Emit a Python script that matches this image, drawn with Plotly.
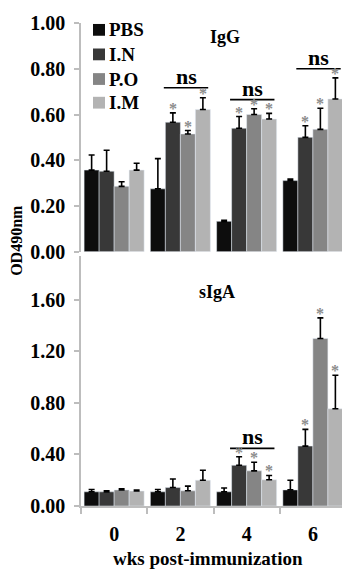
import plotly.graph_objects as go

weeks = ["0", "2", "4", "6"]
groups = ["PBS", "I.N", "P.O", "I.M"]
colors = ["#0d0d0d", "#383838", "#858585", "#b3b3b3"]

igg_vals = {
    "PBS": [0.357, 0.275, 0.133, 0.311],
    "I.N": [0.352, 0.566, 0.54, 0.50],
    "P.O": [0.286, 0.515, 0.60, 0.535],
    "I.M": [0.357, 0.622, 0.58, 0.668],
}
igg_err = {
    "PBS": [0.066, 0.132, 0.005, 0.007],
    "I.N": [0.092, 0.041, 0.051, 0.051],
    "P.O": [0.02, 0.015, 0.025, 0.092],
    "I.M": [0.03, 0.051, 0.025, 0.092],
}
siga_vals = {
    "PBS": [0.11, 0.11, 0.11, 0.125],
    "I.N": [0.11, 0.143, 0.316, 0.465],
    "P.O": [0.125, 0.118, 0.273, 1.30],
    "I.M": [0.116, 0.20, 0.204, 0.755],
}
siga_err = {
    "PBS": [0.018, 0.018, 0.03, 0.075],
    "I.N": [0.008, 0.067, 0.066, 0.13],
    "P.O": [0.008, 0.036, 0.066, 0.16],
    "I.M": [0.007, 0.078, 0.033, 0.26],
}
# significance stars: (week index, group) per panel
igg_stars = [(w, g) for w in (1, 2, 3) for g in ("I.N", "P.O", "I.M")]
siga_stars = [(w, g) for w in (2, 3) for g in ("I.N", "P.O", "I.M")]
# "ns" brackets: (week index, y level)
igg_ns = [(1, 0.717), (2, 0.665), (3, 0.80)]
siga_ns = [(2, 0.447)]

FONT = "Liberation Serif"
BARGAP = 0.094
fig = go.Figure()

for i, g in enumerate(groups):
    fig.add_trace(go.Bar(
        x=weeks, y=igg_vals[g], name=g, marker_color=colors[i],
        offsetgroup=g, xaxis="x", yaxis="y",
        error_y=dict(type="data", symmetric=False, array=igg_err[g],
                     arrayminus=[0] * 4, color="black", thickness=1.6, width=3),
        showlegend=False,
    ))
for i, g in enumerate(groups):
    fig.add_trace(go.Bar(
        x=weeks, y=siga_vals[g], name=g, marker_color=colors[i],
        offsetgroup=g, xaxis="x2", yaxis="y2",
        error_y=dict(type="data", symmetric=False, array=siga_err[g],
                     arrayminus=[0] * 4, color="black", thickness=1.6, width=3),
        showlegend=False,
    ))

bw = (1 - BARGAP) / 4
def bar_x(w, g):
    k = groups.index(g)
    return w - (1 - BARGAP) / 2 + bw * (k + 0.5)

ann = []
shapes = []
for (w, g) in igg_stars:
    top = igg_vals[g][w] + igg_err[g][w]
    ann.append(dict(x=bar_x(w, g), y=top, xref="x", yref="y", text="*",
                    showarrow=False, yanchor="bottom", yshift=-6,
                    font=dict(size=16, color="#8c8c8c", family=FONT)))
for (w, g) in siga_stars:
    top = siga_vals[g][w] + siga_err[g][w]
    ann.append(dict(x=bar_x(w, g), y=top, xref="x2", yref="y2", text="*",
                    showarrow=False, yanchor="bottom", yshift=-6,
                    font=dict(size=16, color="#8c8c8c", family=FONT)))
for (w, lvl), (xr, yr) in [(n, ("x", "y")) for n in igg_ns] + [(n, ("x2", "y2")) for n in siga_ns]:
    shapes.append(dict(type="line", xref=xr, yref=yr, x0=w - 0.25, x1=w + 0.42,
                       y0=lvl, y1=lvl, line=dict(color="black", width=1.6)))
    ann.append(dict(x=w + 0.085, y=lvl, xref=xr, yref=yr, text="ns",
                    showarrow=False, yanchor="bottom", yshift=-3,
                    font=dict(size=22, color="black", family=FONT, weight="bold")))

# legend (squares + labels) inside the top panel
leg_y = [0.9858, 0.935, 0.884, 0.835]
for i, g in enumerate(groups):
    shapes.append(dict(type="rect", xref="paper", yref="paper",
                       x0=0.0453, x1=0.0906, y0=leg_y[i] - 0.0122, y1=leg_y[i] + 0.0122,
                       fillcolor=colors[i], line=dict(width=0)))
    ann.append(dict(x=0.098, y=leg_y[i], xref="paper", yref="paper", text=g,
                    showarrow=False, xanchor="left", yanchor="middle",
                    font=dict(size=19, family=FONT, weight="bold")))

ann += [
    dict(x=0.543, y=0.9715, xref="paper", yref="paper", text="IgG", showarrow=False,
         xanchor="center", yanchor="middle",
         font=dict(size=18, family=FONT, weight="bold")),
    dict(x=0.513, y=0.443, xref="paper", yref="paper", text="sIgA", showarrow=False,
         xanchor="center", yanchor="middle",
         font=dict(size=18, family=FONT, weight="bold")),
    dict(x=0.479, y=-0.108, xref="paper", yref="paper", text="wks post-immunization",
         showarrow=False, xanchor="center", yanchor="middle",
         font=dict(size=19, family=FONT, weight="bold")),
    dict(x=-0.2415, y=0.549, xref="paper", yref="paper", text="OD490nm", textangle=-90,
         showarrow=False, xanchor="center", yanchor="middle",
         font=dict(size=16, family=FONT, weight="bold")),
]

axis_gray = "#bdbdbd"
# the page body adds an 8px offset, so the figure is 342x563 with shifted margins
fig.update_layout(
    width=342, height=563,
    margin=dict(l=73, r=4, t=6, b=65),
    paper_bgcolor="white", plot_bgcolor="white",
    barmode="group", bargap=BARGAP, bargroupgap=0,
    font=dict(family=FONT, color="black", weight="bold"),
    showlegend=False,
    xaxis=dict(type="category", domain=[0, 1], anchor="y", range=[-0.5, 3.5],
               showticklabels=False, showline=False, ticks="", showgrid=False,
               zeroline=False),
    yaxis=dict(domain=[0.5264, 1], anchor="x", range=[0, 1.0],
               tickvals=[0, 0.2, 0.4, 0.6, 0.8, 1.0], tickformat=".2f",
               showline=True, linecolor=axis_gray, linewidth=1.5,
               ticks="outside", ticklen=5, tickcolor=axis_gray, tickwidth=1.5,
               showgrid=False, zeroline=False, ticklabelstandoff=5,
               ticklabeloverflow="allow",
               tickfont=dict(size=20, family=FONT, weight="bold")),
    xaxis2=dict(type="category", domain=[0, 1], anchor="y2", range=[-0.5, 3.5],
                tickson="boundaries", ticks="outside", ticklen=6, tickcolor=axis_gray,
                tickwidth=1.5, showline=True, linecolor=axis_gray, linewidth=1.5,
                showgrid=False, zeroline=False, ticklabelstandoff=9,
                tickfont=dict(size=20, family=FONT, weight="bold")),
    yaxis2=dict(domain=[0, 0.5183], anchor="x2", range=[0, 1.943],
                tickvals=[0, 0.4, 0.8, 1.2, 1.6], tickformat=".2f",
                showline=True, linecolor=axis_gray, linewidth=1.5,
                ticks="outside", ticklen=5, tickcolor=axis_gray, tickwidth=1.5,
                showgrid=False, zeroline=False, ticklabelstandoff=5,
                tickfont=dict(size=20, family=FONT, weight="bold")),
    annotations=ann,
    shapes=shapes,
)

fig.write_html("out.html")
